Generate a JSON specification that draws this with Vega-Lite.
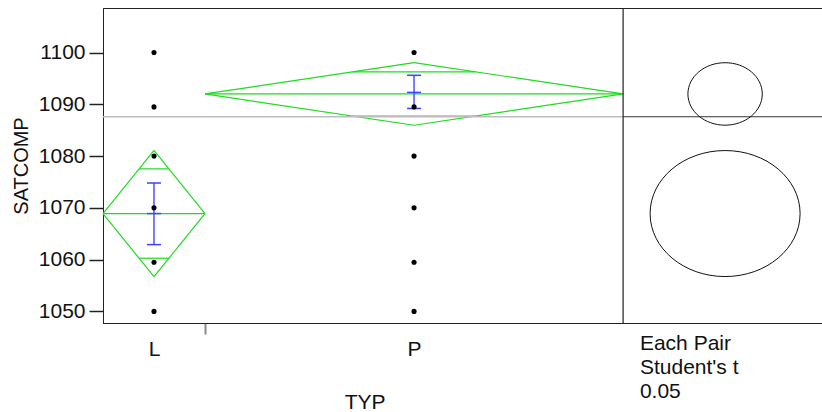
{
  "$schema": "https://vega.github.io/schema/vega-lite/v6.json",
  "width": 720,
  "height": 315,
  "autosize": "none",
  "padding": {"left": 103, "top": 8, "right": 0, "bottom": 89},
  "background": "white",
  "config": {
    "view": {"stroke": "#222", "strokeWidth": 1},
    "axis": {"grid": false},
    "font": "Liberation Sans"
  },
  "datasets": {
    "points": [
      {"typ": "L", "x": 5, "y": 1100}, {"typ": "L", "x": 5, "y": 1089.5}, {"typ": "L", "x": 5, "y": 1080},
      {"typ": "L", "x": 5, "y": 1070}, {"typ": "L", "x": 5, "y": 1059.5}, {"typ": "L", "x": 5, "y": 1050},
      {"typ": "P", "x": 30.5, "y": 1100}, {"typ": "P", "x": 30.5, "y": 1089.5}, {"typ": "P", "x": 30.5, "y": 1080},
      {"typ": "P", "x": 30.5, "y": 1070}, {"typ": "P", "x": 30.5, "y": 1059.5}, {"typ": "P", "x": 30.5, "y": 1050}
    ],
    "diamond": [
      {"typ": "L", "x": 0, "y": 1068.9, "x2": 5, "y2": 1081.1},
      {"typ": "L", "x": 5, "y": 1081.1, "x2": 10, "y2": 1068.9},
      {"typ": "L", "x": 10, "y": 1068.9, "x2": 5, "y2": 1056.7},
      {"typ": "L", "x": 5, "y": 1056.7, "x2": 0, "y2": 1068.9},
      {"typ": "L", "x": 0, "y": 1068.9, "x2": 10, "y2": 1068.9},
      {"typ": "L", "x": 3.54, "y": 1077.53, "x2": 6.46, "y2": 1077.53},
      {"typ": "L", "x": 3.54, "y": 1060.27, "x2": 6.46, "y2": 1060.27},
      {"typ": "P", "x": 10, "y": 1092.0, "x2": 30.5, "y2": 1098.05},
      {"typ": "P", "x": 30.5, "y": 1098.05, "x2": 51, "y2": 1092.0},
      {"typ": "P", "x": 51, "y": 1092.0, "x2": 30.5, "y2": 1085.95},
      {"typ": "P", "x": 30.5, "y": 1085.95, "x2": 10, "y2": 1092.0},
      {"typ": "P", "x": 10, "y": 1092.0, "x2": 51, "y2": 1092.0},
      {"typ": "P", "x": 24.5, "y": 1096.28, "x2": 36.5, "y2": 1096.28},
      {"typ": "P", "x": 24.5, "y": 1087.72, "x2": 36.5, "y2": 1087.72}
    ],
    "errbar": [
      {"typ": "L", "x": 5, "lo": 1062.9, "hi": 1074.8, "m": 1068.9},
      {"typ": "P", "x": 30.5, "lo": 1089.2, "hi": 1095.6, "m": 1092.3}
    ],
    "grand": [
      {"part": "plot", "x": 0, "x2": 51, "y": 1087.6},
      {"part": "circles", "x": 51, "x2": 70.6, "y": 1087.6}
    ],
    "circles": [
      {"typ": "L", "x": 61, "y": 1068.9, "ci": 12.2},
      {"typ": "P", "x": 61, "y": 1092.0, "ci": 6.05}
    ]
  },
  "layer": [
    {
      "data": {"name": "diamond"},
      "mark": {"type": "rule", "color": "#1EDC1E", "strokeWidth": 1.2},
      "encoding": {
        "x": {
          "field": "x", "type": "quantitative", "title": "TYP",
          "scale": {"domain": [0, 70.6], "nice": false, "zero": false},
          "axis": {
            "title": "TYP",
            "values": [5, 10, 30.5, 52.6],
            "labelExpr": "datum.value == 5 ? 'L' : datum.value == 30.5 ? 'P' : datum.value > 50 ? ['Each Pair', \"Student's t\", '\u20050.05'] : ''",
            "tickOpacity": {"condition": {"test": "datum.value == 10", "value": 1}, "value": 0},
            "tickSize": 11,
            "tickColor": "#888",
            "tickWidth": 2,
            "domainColor": "#222",
            "labelAlign": {"condition": {"test": "datum.value > 50", "value": "left"}, "value": "center"},
            "labelBaseline": "top",
            "labelPadding": {"condition": {"test": "datum.value > 50", "value": -1.5}, "value": 4},
            "labelLineHeight": 24,
            "labelFont": "Liberation Sans",
            "labelFontSize": 21,
            "labelColor": "#111",
            "labelOverlap": false,
            "labelBound": false,
            "labelFlush": false,
            "titleX": 261.7,
            "titleY": 68,
            "titleBaseline": "top",
            "titleAlign": "center",
            "titleFont": "Liberation Sans",
            "titleFontSize": 21,
            "titleFontWeight": "normal",
            "titleColor": "#111"
          }
        },
        "y": {
          "field": "y", "type": "quantitative", "title": "SATCOMP",
          "scale": {"domain": [1047.76, 1108.6], "nice": false, "zero": false},
          "axis": {
            "title": "SATCOMP",
            "values": [1050, 1055, 1060, 1065, 1070, 1075, 1080, 1085, 1090, 1095, 1100, 1105],
            "format": "d",
            "labelExpr": "datum.value % 10 == 0 ? datum.label : ''",
            "tickSize": {"condition": {"test": "datum.value % 10 != 0", "value": 8}, "value": 14},
            "tickColor": "#222",
            "tickWidth": 1.5,
            "domainColor": "#222",
            "labelFont": "Liberation Sans",
            "labelFontSize": 21,
            "labelColor": "#111",
            "labelPadding": 4,
            "labelOverlap": false,
            "labelBound": false,
            "labelFlush": false,
            "titleFont": "Liberation Sans",
            "titleFontSize": 20,
            "titleFontWeight": "normal",
            "titleColor": "#111",
            "titlePadding": 7
          }
        },
        "x2": {"field": "x2"},
        "y2": {"field": "y2"}
      }
    },
    {
      "data": {"name": "grand"},
      "transform": [{"filter": "datum.part == 'plot'"}],
      "mark": {"type": "rule", "color": "#BDBDBD", "strokeWidth": 1.5},
      "encoding": {
        "x": {"field": "x", "type": "quantitative", "title": "TYP"},
        "x2": {"field": "x2"},
        "y": {"field": "y", "type": "quantitative", "title": "SATCOMP"}
      }
    },
    {
      "data": {"name": "grand"},
      "transform": [{"filter": "datum.part == 'circles'"}],
      "mark": {"type": "rule", "color": "#333", "strokeWidth": 1.2},
      "encoding": {
        "x": {"field": "x", "type": "quantitative", "title": "TYP"},
        "x2": {"field": "x2"},
        "y": {"field": "y", "type": "quantitative", "title": "SATCOMP"}
      }
    },
    {
      "data": {"values": [{"x": 51}]},
      "mark": {"type": "rule", "color": "#222", "strokeWidth": 1.2},
      "encoding": {
        "x": {"field": "x", "type": "quantitative", "title": "TYP"}
      }
    },
    {
      "data": {"name": "errbar"},
      "mark": {"type": "rule", "color": "#5050FF", "strokeWidth": 1.5},
      "encoding": {
        "x": {"field": "x", "type": "quantitative", "title": "TYP"},
        "y": {"field": "lo", "type": "quantitative", "title": "SATCOMP"},
        "y2": {"field": "hi"}
      }
    },
    {
      "data": {"name": "errbar"},
      "transform": [{"fold": ["lo", "hi", "m"], "as": ["kind", "y"]}],
      "mark": {"type": "tick", "orient": "horizontal", "color": "#4040FF", "size": 14, "thickness": 1.5, "opacity": 1},
      "encoding": {
        "x": {"field": "x", "type": "quantitative", "title": "TYP"},
        "y": {"field": "y", "type": "quantitative", "title": "SATCOMP"}
      }
    },
    {
      "data": {"name": "points"},
      "mark": {"type": "point", "filled": true, "color": "#000", "size": 26, "opacity": 1},
      "encoding": {
        "x": {"field": "x", "type": "quantitative", "title": "TYP"},
        "y": {"field": "y", "type": "quantitative", "title": "SATCOMP"}
      }
    },
    {
      "data": {"name": "circles"},
      "mark": {
        "type": "point",
        "shape": "M 1 0 C 1 0.464 0.552 0.84 0 0.84 C -0.552 0.84 -1 0.464 -1 0 C -1 -0.464 -0.552 -0.84 0 -0.84 C 0.552 -0.84 1 -0.464 1 0 Z",
        "filled": false,
        "stroke": "#111",
        "strokeWidth": 1,
        "opacity": 1
      },
      "encoding": {
        "x": {"field": "x", "type": "quantitative", "title": "TYP"},
        "y": {"field": "y", "type": "quantitative", "title": "SATCOMP"},
        "size": {
          "field": "ci", "type": "quantitative",
          "scale": {"type": "pow", "exponent": 2, "domain": [0, 12.2], "range": [0, 22500]},
          "legend": null
        }
      }
    }
  ]
}
